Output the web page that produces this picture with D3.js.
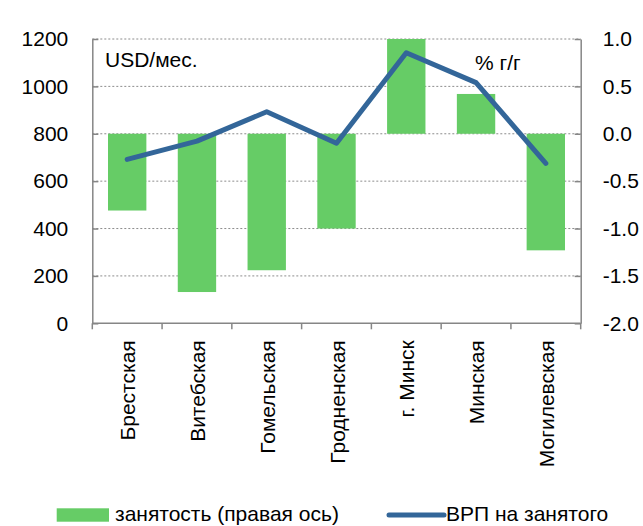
<!DOCTYPE html>
<html>
<head>
<meta charset="utf-8">
<script src="https://cdn.jsdelivr.net/npm/d3@7"></script>
<style>
  body { margin: 0; background: #fff; }
  svg { display: block; font-family: "Liberation Sans", Arial, sans-serif; }
</style>
</head>
<body>
<div id="chart"></div>
<script>
'use strict';

// regions
var categories = ['Брестская', 'Витебская', 'Гомельская', 'Гродненская', 'г. Минск', 'Минская', 'Могилевская'];
// employment, % y/y (right axis)
var employment = [-0.81, -1.67, -1.44, -1.0, 1.0, 0.42, -1.23];
// GRP per employed, USD/month (left axis)
var grpPerEmployed = [692, 769, 893, 760, 1142, 1016, 675];

var leftTicks = [0, 200, 400, 600, 800, 1000, 1200];
var rightTicks = [-2, -1.5, -1, -0.5, 0, 0.5, 1];

var width = 643, height = 526;
var plot = {left: 92.3, right: 580.7, top: 39, bottom: 323.3};
var axisColor = '#868686';
var green = '#66cc66';
var blue = '#336699';

var svg = d3.select('#chart').append('svg')
  .attr('width', width)
  .attr('height', height);

var x = d3.scaleBand()
  .domain(categories)
  .range([plot.left, plot.right])
  .paddingInner(0.45)
  .paddingOuter(0.225);

var yL = d3.scaleLinear().domain([0, 1200]).range([plot.bottom, plot.top]);
var yR = d3.scaleLinear().domain([-2, 1]).range([plot.bottom, plot.top]);

// dotted gridlines
svg.append('g')
  .selectAll('line')
  .data(leftTicks.filter(function (d) { return d > 0; }))
  .enter().append('line')
  .attr('x1', plot.left)
  .attr('x2', plot.right)
  .attr('y1', function (d) { return yL(d); })
  .attr('y2', function (d) { return yL(d); })
  .attr('stroke', '#8c8c8c')
  .attr('stroke-width', 1)
  .attr('stroke-dasharray', '2,2');

// bars (right axis)
svg.append('g')
  .selectAll('rect')
  .data(employment)
  .enter().append('rect')
  .attr('x', function (d, i) { return x(categories[i]); })
  .attr('width', x.bandwidth())
  .attr('y', function (d) { return yR(Math.max(0, d)); })
  .attr('height', function (d) { return Math.abs(yR(d) - yR(0)); })
  .attr('fill', green);

// line (left axis)
var line = d3.line()
  .x(function (d, i) { return x(categories[i]) + x.bandwidth() / 2; })
  .y(function (d) { return yL(d); });

svg.append('path')
  .datum(grpPerEmployed)
  .attr('d', line)
  .attr('fill', 'none')
  .attr('stroke', blue)
  .attr('stroke-width', 5)
  .attr('stroke-linejoin', 'round')
  .attr('stroke-linecap', 'round');

// axes
function styleAxis(g) {
  g.select('.domain').attr('stroke', axisColor).attr('stroke-width', 1.5);
  g.selectAll('.tick line').attr('stroke', axisColor).attr('stroke-width', 1.5);
  g.selectAll('.tick text').attr('fill', '#000').style('font-size', '21px');
}

svg.append('g')
  .attr('transform', 'translate(' + plot.left + ',0)')
  .call(d3.axisLeft(yL).tickValues(leftTicks).tickSize(-6).tickSizeOuter(0).tickPadding(24)
    .tickFormat(d3.format('d')))
  .call(styleAxis);

// plain hyphen for negatives, as in the source chart
var fmtR = function (d) { return d3.format('.1f')(d).replace('\u2212', '-'); };

svg.append('g')
  .attr('transform', 'translate(' + plot.right + ',0)')
  .call(d3.axisRight(yR).tickValues(rightTicks).tickSize(-6).tickSizeOuter(0).tickPadding(22)
    .tickFormat(fmtR))
  .call(styleAxis);

// bottom axis with ticks at category boundaries
var xb = svg.append('g').attr('transform', 'translate(0,' + plot.bottom + ')');
xb.append('line')
  .attr('x1', plot.left)
  .attr('x2', plot.right)
  .attr('stroke', axisColor)
  .attr('stroke-width', 1.5);
var step = x.step();
xb.selectAll('line.tk')
  .data(d3.range(categories.length + 1))
  .enter().append('line')
  .attr('class', 'tk')
  .attr('x1', function (i) { return plot.left + i * step; })
  .attr('x2', function (i) { return plot.left + i * step; })
  .attr('y1', 0)
  .attr('y2', 6)
  .attr('stroke', axisColor)
  .attr('stroke-width', 1.5);

xb.selectAll('text')
  .data(categories)
  .enter().append('text')
  .attr('transform', function (d) {
    return 'translate(' + (x(d) + x.bandwidth() / 2 + 8) + ',17) rotate(-90)';
  })
  .attr('text-anchor', 'end')
  .style('font-size', '21px')
  .text(function (d) { return d; });

// unit labels
svg.append('text')
  .attr('x', 105)
  .attr('y', 67)
  .style('font-size', '21px')
  .text('USD/мес.');

svg.append('text')
  .attr('x', 475)
  .attr('y', 70)
  .style('font-size', '21px')
  .text('% г/г');

// legend
var legend = svg.append('g');
legend.append('rect')
  .attr('x', 56.7)
  .attr('y', 508.3)
  .attr('width', 52.3)
  .attr('height', 13.4)
  .attr('fill', green);
legend.append('text')
  .attr('x', 115)
  .attr('y', 521)
  .style('font-size', '21px')
  .text('занятость (правая ось)');
legend.append('line')
  .attr('x1', 389)
  .attr('x2', 444)
  .attr('y1', 515)
  .attr('y2', 515)
  .attr('stroke', blue)
  .attr('stroke-width', 5)
  .attr('stroke-linecap', 'round');
legend.append('text')
  .attr('x', 446)
  .attr('y', 521)
  .style('font-size', '21px')
  .text('ВРП на занятого');
</script>
</body>
</html>
